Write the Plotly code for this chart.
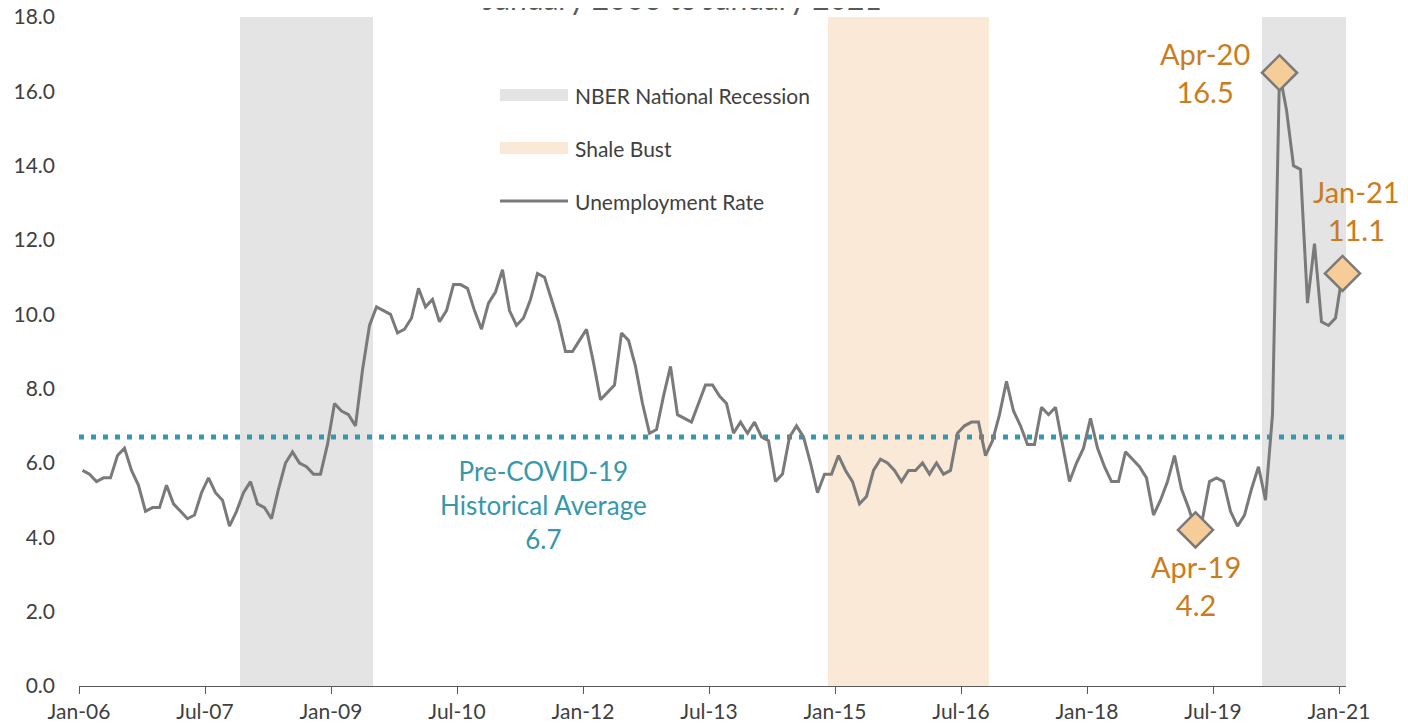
import plotly.graph_objects as go
import pandas as pd

# ---------------- data ----------------
months = [d.strftime("%b-%y") for d in pd.date_range("2006-01-01", "2021-01-01", freq="MS")]

unemployment = [
    5.8, 5.7, 5.5, 5.6, 5.6, 6.2, 6.4, 5.8, 5.4, 4.7, 4.8, 4.8,   # 2006
    5.4, 4.9, 4.7, 4.5, 4.6, 5.2, 5.6, 5.2, 5.0, 4.3, 4.7, 5.2,   # 2007
    5.5, 4.9, 4.8, 4.5, 5.3, 6.0, 6.3, 6.0, 5.9, 5.7, 5.7, 6.5,   # 2008
    7.6, 7.4, 7.3, 7.0, 8.5, 9.7, 10.2, 10.1, 10.0, 9.5, 9.6, 9.9,  # 2009
    10.7, 10.2, 10.4, 9.8, 10.1, 10.8, 10.8, 10.7, 10.1, 9.6, 10.3, 10.6,  # 2010
    11.2, 10.1, 9.7, 9.9, 10.4, 11.1, 11.0, 10.4, 9.8, 9.0, 9.0, 9.3,  # 2011
    9.6, 8.7, 7.7, 7.9, 8.1, 9.5, 9.3, 8.6, 7.6, 6.8, 6.9, 7.8,   # 2012
    8.6, 7.3, 7.2, 7.1, 7.6, 8.1, 8.1, 7.8, 7.6, 6.8, 7.1, 6.8,   # 2013
    7.1, 6.7, 6.6, 5.5, 5.7, 6.7, 7.0, 6.7, 6.0, 5.2, 5.7, 5.7,   # 2014
    6.2, 5.8, 5.5, 4.9, 5.1, 5.8, 6.1, 6.0, 5.8, 5.5, 5.8, 5.8,   # 2015
    6.0, 5.7, 6.0, 5.7, 5.8, 6.8, 7.0, 7.1, 7.1, 6.2, 6.6, 7.3,   # 2016
    8.2, 7.4, 7.0, 6.5, 6.5, 7.5, 7.3, 7.5, 6.5, 5.5, 6.0, 6.4,   # 2017
    7.2, 6.4, 5.9, 5.5, 5.5, 6.3, 6.1, 5.9, 5.6, 4.6, 5.0, 5.5,   # 2018
    6.2, 5.3, 4.8, 4.2, 4.5, 5.5, 5.6, 5.5, 4.7, 4.3, 4.6, 5.3,   # 2019
    5.9, 5.0, 7.3, 16.5, 15.5, 14.0, 13.9, 10.3, 11.9, 9.8, 9.7, 9.9,  # 2020
    11.1,                                                          # 2021
]

historical_average = 6.7
recession_periods = [("Dec-07", "Jun-09"), ("Feb-20", "Jan-21")]
shale_bust_periods = [("Dec-14", "Oct-16")]
highlight_months = ["Apr-19", "Apr-20", "Jan-21"]
tick_labels = ["Jan-06", "Jul-07", "Jan-09", "Jul-10", "Jan-12", "Jul-13",
               "Jan-15", "Jul-16", "Jan-18", "Jul-19", "Jan-21"]

# ---------------- styling ----------------
FONT = "Lato"
TXT = "#404040"
LINE = "#7a7a7a"
REC = "#e4e4e4"
SHALE = "#f9e9d6"
TEAL = "#3797ac"
ORANGE = "#c97d20"
DIAMOND = "#f6cc98"

OFF = 8                      # page body margin
W, H = 1400, 720
L, R, T, B = 71, 62, 9, 42
PW, PH = W - L - R, H - T - B


def px_x(sx):   # screen px -> paper
    return (sx - OFF - L) / PW


def px_y(sy):
    return (H - B - (sy - OFF)) / PH


idx = {m: i for i, m in enumerate(months)}
x = list(range(len(months)))

fig = go.Figure()

shapes = []
for a, b in recession_periods:
    shapes.append(dict(type="rect", xref="x", yref="paper", x0=idx[a] - 0.5, x1=idx[b] + 0.5,
                       y0=0, y1=1, fillcolor=REC, line_width=0, layer="below"))
for a, b in shale_bust_periods:
    shapes.append(dict(type="rect", xref="x", yref="paper", x0=idx[a] - 0.5, x1=idx[b] + 0.5,
                       y0=0, y1=1, fillcolor=SHALE, line_width=0, layer="below"))

# manual legend
legend_items = [("NBER National Recession", "rect", REC, 95),
                ("Shale Bust", "rect", SHALE, 148),
                ("Unemployment Rate", "line", LINE, 201)]
annotations = []
for label, kind, col, py in legend_items:
    if kind == "rect":
        shapes.append(dict(type="rect", xref="paper", yref="paper", x0=px_x(500), x1=px_x(568),
                           y0=px_y(py + 6), y1=px_y(py - 6), fillcolor=col, line_width=0))
    else:
        shapes.append(dict(type="line", xref="paper", yref="paper", x0=px_x(500), x1=px_x(568),
                           y0=px_y(py), y1=px_y(py), line=dict(color=col, width=3)))
    annotations.append(dict(xref="paper", yref="paper", x=px_x(573), y=px_y(py), text=label,
                            showarrow=False, xanchor="left", yanchor="middle",
                            font=dict(family=FONT, size=21, color=TXT)))

fig.update_layout(shapes=shapes)

# historical average
fig.add_trace(go.Scatter(x=[-0.5, len(months) - 0.5], y=[historical_average] * 2, mode="lines",
                         line=dict(color=TEAL, width=5, dash="5px,7px"), hoverinfo="skip",
                         showlegend=False))

# unemployment line
fig.add_trace(go.Scatter(x=x, y=unemployment, mode="lines", line=dict(color=LINE, width=3),
                         customdata=months, hovertemplate="%{customdata}: %{y:.1f}<extra></extra>",
                         showlegend=False))

# highlighted points
hx = [idx[m] for m in highlight_months]
hy = [unemployment[i] for i in hx]
fig.add_trace(go.Scatter(x=hx, y=hy, mode="markers",
                         marker=dict(symbol="diamond", size=27, color=DIAMOND,
                                     line=dict(color=LINE, width=2.5)),
                         hoverinfo="skip", showlegend=False, cliponaxis=False))

label_offsets = {"Apr-19": (0, -56, "center"), "Apr-20": (-28, 0, "right"), "Jan-21": (14, 63, "center")}
for m in highlight_months:
    i = idx[m]
    dx, dy, anc = label_offsets[m]
    annotations.append(dict(x=i, y=unemployment[i], xref="x", yref="y",
                            text=f"{m}<br>{unemployment[i]:.1f}", showarrow=False,
                            xanchor=anc, yanchor="middle", xshift=dx, yshift=dy, align="center",
                            font=dict(family=FONT, size=29, color=ORANGE)))

annotations.append(dict(xref="paper", yref="paper", x=px_x(543), y=px_y(505),
                        text=f"Pre-COVID-19<br>Historical Average<br>{historical_average:.1f}",
                        showarrow=False, xanchor="center", yanchor="middle", align="center",
                        font=dict(family=FONT, size=26, color=TEAL)))

annotations.append(dict(xref="paper", yref="paper", x=px_x(682), y=px_y(-2),
                        text="January 2006 to January 2021", showarrow=False,
                        xanchor="center", yanchor="middle",
                        font=dict(family=FONT, size=30, color="#595959")))

fig.update_layout(
    annotations=annotations,
    width=W, height=H,
    margin=dict(l=L, r=R, t=T, b=B, autoexpand=False),
    paper_bgcolor="white", plot_bgcolor="white",
    showlegend=False,
    xaxis=dict(range=[-0.5, len(months) - 0.5], automargin=False,
               tickvals=[idx[t] - 0.5 for t in tick_labels], ticktext=tick_labels,
               ticks="outside", ticklen=7, tickcolor="#595959", tickwidth=1.2,
               showline=True, linecolor="#595959", linewidth=1.2,
               showgrid=False, zeroline=False, ticklabeloverflow="allow",
               tickfont=dict(family=FONT, size=21, color=TXT)),
    yaxis=dict(range=[0, 18], dtick=2, tickformat=".1f", showgrid=False, zeroline=False,
               showline=False, ticks="", ticklabelstandoff=23, automargin=False,
               ticklabeloverflow="allow",
               tickfont=dict(family=FONT, size=21, color=TXT)),
)

fig.write_html("out.html")
